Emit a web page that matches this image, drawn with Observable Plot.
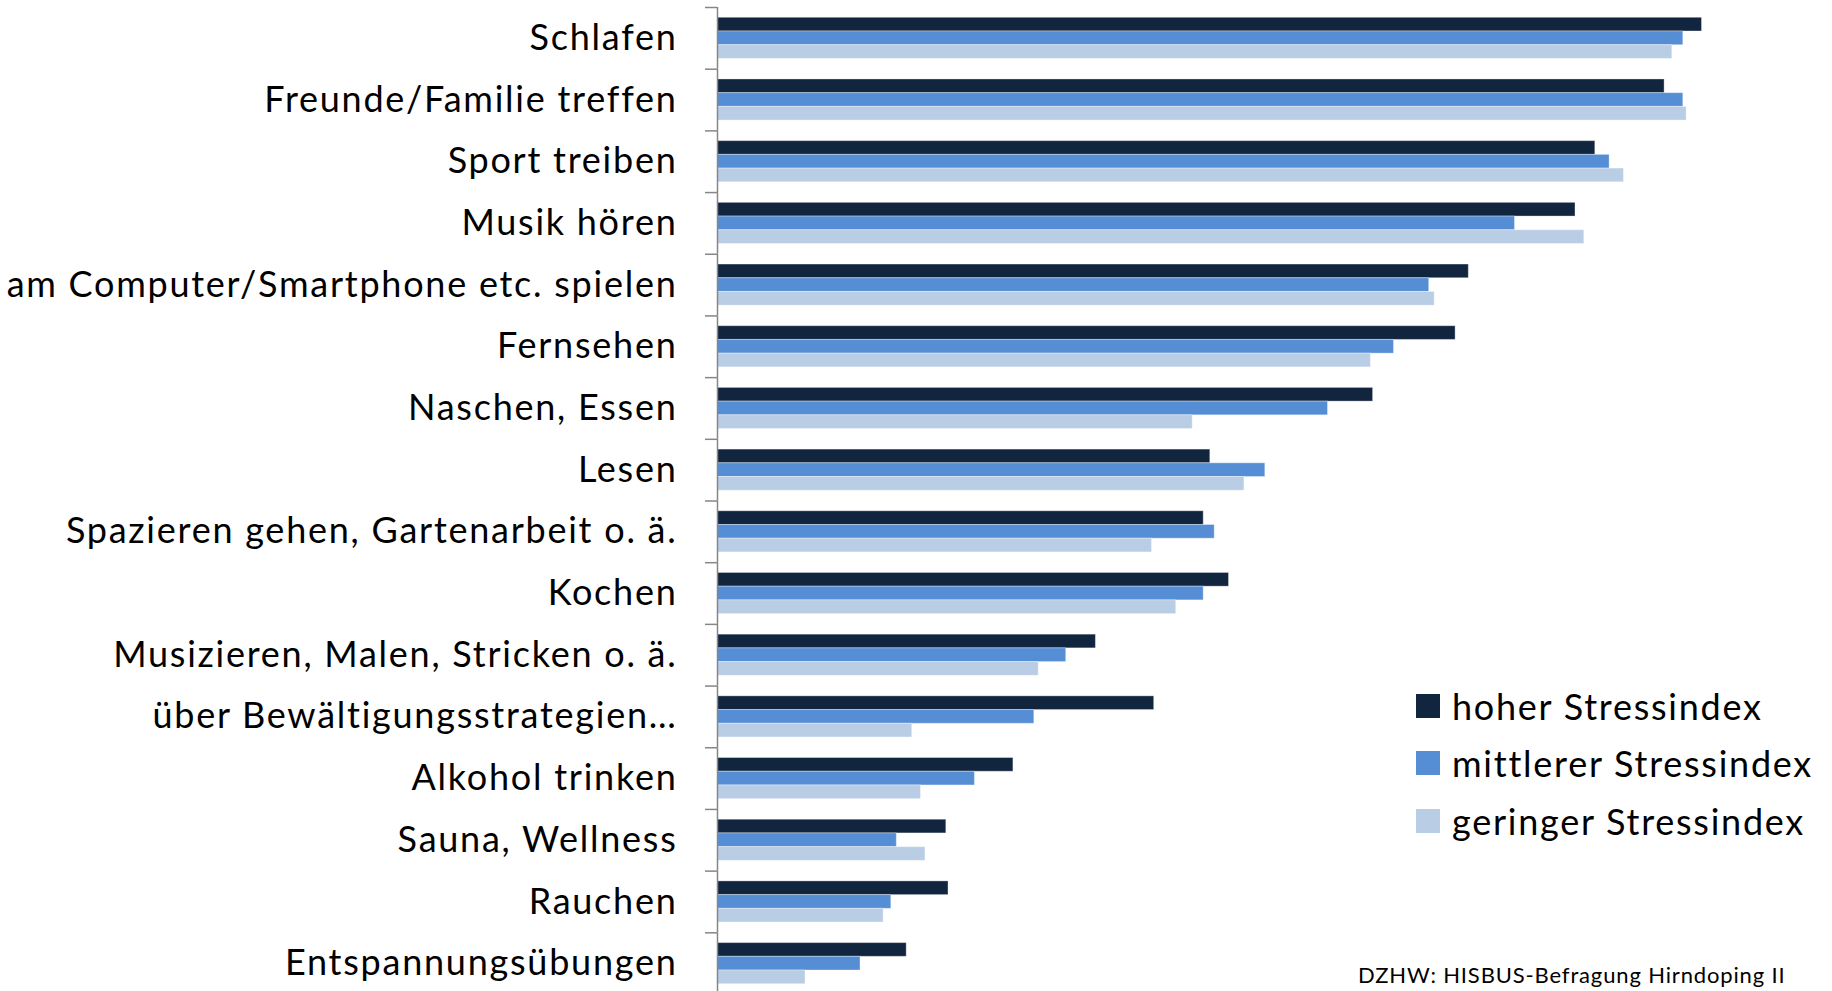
<!DOCTYPE html>
<html>
<head>
<meta charset="utf-8">
<script src="https://cdn.jsdelivr.net/npm/d3@7"></script>
<script src="https://cdn.jsdelivr.net/npm/@observablehq/plot@0.6"></script>
<style>
  html, body { margin: 0; padding: 0; background: #fff; overflow: hidden; }
  #wrap { position: relative; width: 1832px; height: 991px; overflow: hidden; font-family: Lato, "Open Sans", sans-serif; color: #000; }
  #chart svg { display: block; }
  #legend { position: absolute; left: 1416px; top: 677px; }
  #legend .row { display: flex; align-items: center; height: 57.5px; font-size: 36px; letter-spacing: 1.75px; white-space: nowrap; }
  #legend .sw { width: 24px; height: 24px; margin-right: 12px; flex: none; }
  #caption { position: absolute; left: 1358px; top: 962px; font-size: 22px; line-height: 26px; letter-spacing: 0.85px; white-space: nowrap; }
</style>
</head>
<body>
<div id="wrap">
  <div id="chart"></div>
  <div id="legend"></div>
  <div id="caption"></div>
</div>
<script>
const categories = [
  "Schlafen",
  "Freunde/Familie treffen",
  "Sport treiben",
  "Musik hören",
  "am Computer/Smartphone etc. spielen",
  "Fernsehen",
  "Naschen, Essen",
  "Lesen",
  "Spazieren gehen, Gartenarbeit o. ä.",
  "Kochen",
  "Musizieren, Malen, Stricken o. ä.",
  "über Bewältigungsstrategien…",
  "Alkohol trinken",
  "Sauna, Wellness",
  "Rauchen",
  "Entspannungsübungen"
];
const seriesNames = ["hoher Stressindex", "mittlerer Stressindex", "geringer Stressindex"];
const hoher     = [89.5, 86.1, 79.8, 78.0, 68.3, 67.1, 59.6, 44.8, 44.2, 46.5, 34.4, 39.7, 26.9, 20.8, 21.0, 17.2];
const mittlerer = [87.8, 87.8, 81.1, 72.5, 64.7, 61.5, 55.5, 49.8, 45.2, 44.2, 31.7, 28.8, 23.4, 16.3, 15.8, 13.0];
const geringer  = [86.8, 88.1, 82.4, 78.8, 65.2, 59.4, 43.2, 47.9, 39.5, 41.7, 29.2, 17.7, 18.5, 18.9, 15.1,  8.0];
const seriesColors = ["#12253F", "#558ED5", "#B9CDE5"];
const captionText = "DZHW: HISBUS-Befragung Hirndoping II";

const seriesValues = [hoher, mittlerer, geringer];
const data = categories.flatMap((c, i) =>
  seriesNames.map((s, j) => ({category: c, series: s, value: seriesValues[j][i]}))
);

const H = 991, MT = 7, MB = -3;
const band = (H - MT - MB) / categories.length;

const chart = Plot.plot({
  width: 1832,
  height: H,
  marginTop: MT,
  marginBottom: MB,
  marginLeft: 717,
  marginRight: 15,
  style: {fontFamily: "Lato, 'Open Sans', sans-serif", background: "#fff", color: "#000", overflow: "visible", letterSpacing: "1.75px"},
  x: {domain: [0, 100], axis: null},
  fy: {domain: categories, padding: 0, round: false, axis: null, label: null},
  y: {domain: seriesNames, paddingInner: 0, paddingOuter: 0.75, round: false, axis: null},
  color: {domain: seriesNames, range: seriesColors},
  marks: [
    Plot.barX(data, {fy: "category", y: "series", x: "value", fill: "series", stroke: "#ffffff", strokeOpacity: 0.35, strokeWidth: 1}),
    Plot.ruleX([0], {stroke: "#868686", strokeWidth: 1.5}),
    Plot.axisFy({anchor: "left", tickSize: 0, tickPadding: 40, fontSize: 36, fill: "#000", label: null}),
    Plot.axisFy({anchor: "left", tickSize: 12, tickFormat: null, stroke: "#868686", strokeWidth: 1.5, dy: -band / 2, label: null})
  ]
});
document.getElementById("chart").appendChild(chart);

const legend = document.getElementById("legend");
seriesNames.forEach((s, j) => {
  const row = document.createElement("div");
  row.className = "row";
  const sw = document.createElement("span");
  sw.className = "sw";
  sw.style.background = seriesColors[j];
  const t = document.createElement("span");
  t.textContent = s;
  row.appendChild(sw);
  row.appendChild(t);
  legend.appendChild(row);
});
document.getElementById("caption").textContent = captionText;
</script>
</body>
</html>
